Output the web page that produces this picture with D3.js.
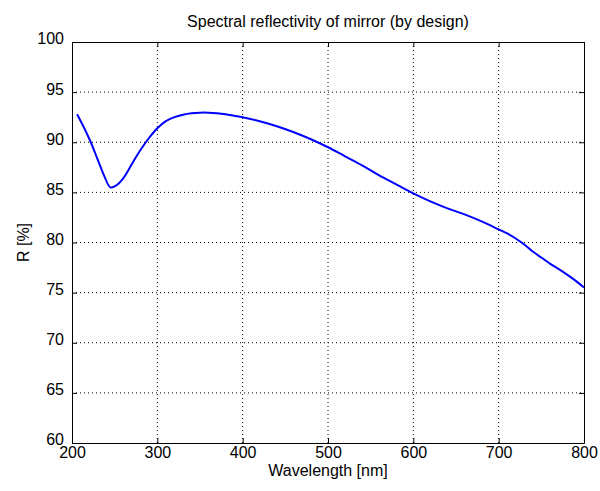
<!DOCTYPE html>
<html lang="en">
<head>
  <meta charset="UTF-8">
  <title>Spectral reflectivity</title>
  <style>
    body { margin: 0; background: #fff; }
    text { font-family: "Liberation Sans", Arial, sans-serif; fill: #000; }
    .grid line { stroke: #000; stroke-dasharray: 1,3; stroke-width: 1; }
  </style>
</head>
<body>
  <div id="chart"></div>
  <script src="https://d3js.org/d3.v7.min.js"></script>
  <script>
    // data
    const wavelength = [206, 215, 222, 230, 238, 245, 252, 260, 270, 280, 290, 300, 310, 320, 330, 340, 350, 360, 370, 380, 390, 400,
      420, 440, 460, 480, 500, 520, 540, 560, 580, 600, 620, 640, 660, 680, 700, 710, 720, 730, 740, 750, 760, 775, 790, 800];
    const reflectivity = [92.8, 91.3, 90.0, 88.3, 86.6, 85.5, 85.7, 86.4, 87.8, 89.2, 90.4, 91.4, 92.1, 92.5, 92.75, 92.9, 92.95, 92.95, 92.9, 92.8, 92.65, 92.5,
      92.1, 91.6, 91.0, 90.3, 89.5, 88.6, 87.7, 86.7, 85.8, 84.9, 84.1, 83.4, 82.8, 82.1, 81.3, 80.9, 80.4, 79.8, 79.1, 78.5, 77.9, 77.1, 76.2, 75.5];
    const xTicks = [200, 300, 400, 500, 600, 700, 800];
    const yTicks = [60, 65, 70, 75, 80, 85, 90, 95, 100];

    const width = 600, height = 491;
    const margin = { top: 42, right: 16, bottom: 48, left: 72 };
    const w = width - margin.left - margin.right;
    const h = height - margin.top - margin.bottom;

    const svg = d3.select("#chart").append("svg")
      .attr("width", width)
      .attr("height", height);

    const g = svg.append("g").attr("transform", `translate(${margin.left},${margin.top})`);

    const x = d3.scaleLinear().domain([200, 800]).range([0, w]);
    const y = d3.scaleLinear().domain([60, 100]).range([h, 0]);

    // dotted grid
    const grid = g.append("g").attr("class", "grid");
    grid.selectAll(".vx").data(xTicks.slice(1, -1)).enter().append("line")
      .attr("x1", d => x(d)).attr("x2", d => x(d))
      .attr("y1", 0).attr("y2", h);
    grid.selectAll(".hy").data(yTicks.slice(1, -1)).enter().append("line")
      .attr("y1", d => y(d)).attr("y2", d => y(d))
      .attr("x1", 0).attr("x2", w);

    // axes, ticks inward on all sides
    const axStyle = sel => {
      sel.select(".domain").attr("stroke", "#000");
      sel.selectAll(".tick line").attr("stroke", "#000");
      sel.selectAll("text").style("font-size", "16px").attr("fill", "#000");
    };
    g.append("g").attr("transform", `translate(0,${h})`)
      .call(d3.axisBottom(x).tickValues(xTicks).tickSizeInner(-5).tickSizeOuter(0).tickPadding(4))
      .call(axStyle);
    g.append("g")
      .call(d3.axisLeft(y).tickValues(yTicks).tickSizeInner(-5).tickSizeOuter(0).tickPadding(8))
      .call(axStyle)
      .selectAll("text").attr("dy", "0.12em");
    g.append("g")
      .call(d3.axisTop(x).tickValues(xTicks).tickSizeInner(-5).tickSizeOuter(0).tickFormat(""))
      .call(axStyle);
    g.append("g").attr("transform", `translate(${w},0)`)
      .call(d3.axisRight(y).tickValues(yTicks).tickSizeInner(-5).tickSizeOuter(0).tickFormat(""))
      .call(axStyle);

    // curve
    const pts = wavelength.map((d, i) => [d, reflectivity[i]]);
    g.append("path")
      .datum(pts)
      .attr("fill", "none")
      .attr("stroke", "#0000ff")
      .attr("stroke-width", 2)
      .attr("d", d3.line().x(d => x(d[0])).y(d => y(d[1])).curve(d3.curveCatmullRom));

    // labels
    svg.append("text")
      .attr("x", margin.left + w / 2).attr("y", 27)
      .attr("text-anchor", "middle").style("font-size", "16px")
      .text("Spectral reflectivity of mirror (by design)");
    svg.append("text")
      .attr("x", margin.left + w / 2).attr("y", 476)
      .attr("text-anchor", "middle").style("font-size", "16px")
      .text("Wavelength [nm]");
    svg.append("text")
      .attr("transform", `translate(29,${margin.top + h / 2}) rotate(-90)`)
      .attr("text-anchor", "middle").style("font-size", "16px")
      .text("R [%]");
  </script>
</body>
</html>
